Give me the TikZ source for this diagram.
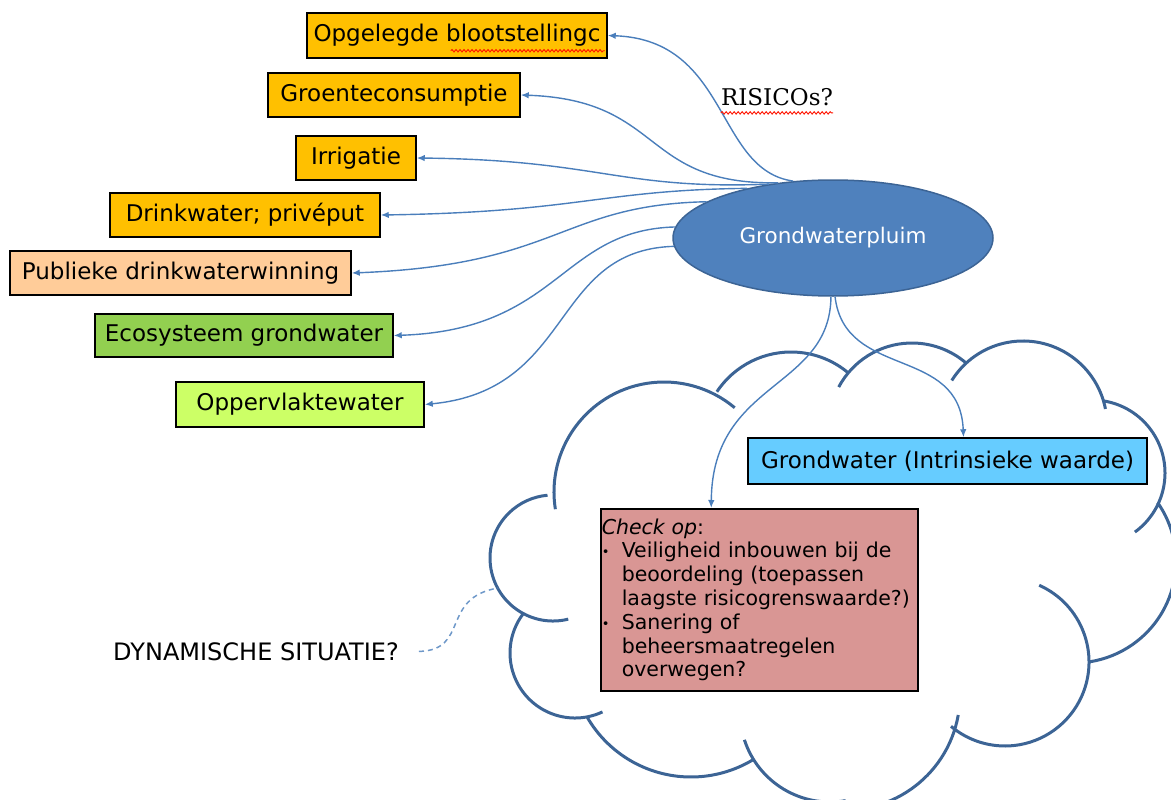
\documentclass[tikz,border=0pt]{standalone}
\usepackage{fontspec}
\setmainfont{DejaVu Sans}
\newfontfamily\risfont{DejaVu Serif}
\usetikzlibrary{shapes.geometric,arrows.meta,calc,decorations.pathmorphing}

\definecolor{oranje}{HTML}{FFC000}
\definecolor{perzik}{HTML}{FFCC99}
\definecolor{groen}{HTML}{92D050}
\definecolor{lichtgroen}{HTML}{CCFF66}
\definecolor{lichtblauw}{HTML}{66CCFF}
\definecolor{roze}{HTML}{D99694}
\definecolor{pluimblauw}{HTML}{4F81BD}
\definecolor{randblauw}{HTML}{3C6495}
\definecolor{lijnblauw}{HTML}{4A7EBB}

\newcommand{\opsom}{\makebox[20pt][l]{\raisebox{1pt}{\fontsize{13}{13}\selectfont\textbullet}}}
\newcommand{\inspring}{\hspace*{20pt}}

\begin{document}
\begin{tikzpicture}[x=1pt,y=-1pt,
  doel/.style={draw=black, line width=1.5pt, minimum height=45pt, inner sep=0pt,
    font=\fontsize{23}{27}\selectfont},
  pluim/.style={ellipse, draw=randblauw, line width=1.5pt, fill=pluimblauw, text=white,
    minimum width=320pt, minimum height=116pt, font=\fontsize{21.5}{25}\selectfont},
  pijl/.style={draw=lijnblauw, line width=1.4pt, -{Latex[length=8pt,width=6.5pt]}},
  wolk/.style={draw=randblauw, line width=3pt},
  stippel/.style={draw=lijnblauw!80, line width=1.5pt, dash pattern=on 5pt off 4pt},
  golf/.style={draw=red!85!orange, line width=0.9pt, decorate,
    decoration={snake, amplitude=1.2pt, segment length=4pt}}]
\useasboundingbox (0,0) rectangle (1171,800);

% de wolk
\draw[wolk]
  ([shift={(171:110)}]664,492) arc[start angle=171, end angle=310, radius=110]
  ([shift={(213.6:89)}]791,441) arc[start angle=213.6, end angle=310, radius=89]
  ([shift={(208:83)}]912,426) arc[start angle=208, end angle=311, radius=83]
  ([shift={(212:84)}]1023,425) arc[start angle=212, end angle=349, radius=84]
  ([shift={(-81:73)}]1092,473) arc[start angle=-81, end angle=54, radius=73]
  ([shift={(-35:102)}]1074,561) arc[start angle=-35, end angle=81, radius=102]
  ([shift={(-66:84)}]1005,662) arc[start angle=-66, end angle=130, radius=84]
  ([shift={(10:115)}]845,695) arc[start angle=10, end angle=100, radius=115]
  ([shift={(80:90)}]830,712) arc[start angle=80, end angle=162, radius=90]
  ([shift={(59:120)}]691,657) arc[start angle=59, end angle=150, radius=120]
  ([shift={(65:65)}]575,653) arc[start angle=65, end angle=217, radius=65]
  ([shift={(76:63)}]553,558) arc[start angle=76, end angle=265, radius=63];
\coordinate (wolkrand) at (498,588);

\node[doel, fill=oranje, minimum width=300pt] (bloot) at (457,35.5) {Opgelegde blootstellingc};
\node[doel, fill=oranje, minimum width=252pt, minimum height=44pt] (groente) at (394,95) {Groenteconsumptie};
\node[doel, fill=oranje, minimum width=120pt, minimum height=44pt] (irri) at (356,158) {Irrigatie};
\node[doel, fill=oranje, minimum width=270pt, minimum height=44pt] (prive) at (245,215) {Drinkwater; privéput};
\node[doel, fill=perzik, minimum width=341pt, minimum height=44pt] (publiek) at (180.5,273) {Publieke drinkwaterwinning};
\node[doel, fill=groen, minimum width=298pt, minimum height=43pt] (eco) at (244,335.5) {Ecosysteem grondwater};
\node[doel, fill=lichtgroen, minimum width=248pt] (opp) at (300,404.5) {Oppervlaktewater};
\node[doel, fill=lichtblauw, minimum width=399pt, minimum height=46pt] (intr) at (947.5,461) {Grondwater (Intrinsieke waarde)};
\node[doel, fill=roze, anchor=north west, align=left, text width=315pt, minimum height=182pt,
  inner xsep=1pt, inner ysep=4pt, font=\fontsize{20.5}{23.8}\selectfont] (check) at (600,508)
  {\textit{Check op}:\\
   \opsom Veiligheid inbouwen bij de\\
   \inspring beoordeling (toepassen\\
   \inspring laagste risicogrenswaarde?)\\
   \opsom Sanering of\\
   \inspring beheersmaatregelen\\
   \inspring overwegen?};

\node[pluim] (pluim) at (833,238) {Grondwaterpluim};
\node[inner sep=0pt, font=\risfont\fontsize{23}{27}\selectfont] (risico) at (777,97) {RISICOs?};
\node[inner sep=0pt, font=\fontsize{24}{28}\selectfont] (dyn) at (256,652) {DYNAMISCHE SITUATIE?};

% pijlen vanuit de pluim
\draw[pijl] (pluim.125) .. controls (715,170) and (730,40) .. (bloot.east);
\draw[pijl] (pluim.135) .. controls (640,185) and (665,100) .. (groente.east);
\draw[pijl] (pluim.140) .. controls (620,190) and (600,160) .. (irri.east);
\draw[pijl] (pluim.150) .. controls (600,190) and (580,212) .. (prive.east);
\draw[pijl] (pluim.164) .. controls (560,205) and (560,265) .. (publiek.east);
\draw[pijl] (pluim.176) .. controls (560,230) and (560,330) .. (eco.east);
\draw[pijl] (pluim.183) .. controls (550,250) and (575,390) .. (opp.east);
\draw[pijl] (pluim.268) .. controls (830,390) and (712,380) .. ($(check.north)+(-48,0)$);
\draw[pijl] (pluim.272) .. controls (845,380) and (960,345) .. ($(intr.north)+(16,0)$);

\draw[stippel, shorten <=20pt] (dyn.east) .. controls (470,650) and (440,598) .. (wolkrand);

% kronkels onder de tekst
\draw[golf] ([xshift=-157pt,yshift=8pt]bloot.south east) -- ([xshift=-3pt,yshift=8pt]bloot.south east);
\draw[golf] ([yshift=-7pt]risico.south west) -- ([yshift=-7pt]risico.south east);
\end{tikzpicture}
\end{document}
